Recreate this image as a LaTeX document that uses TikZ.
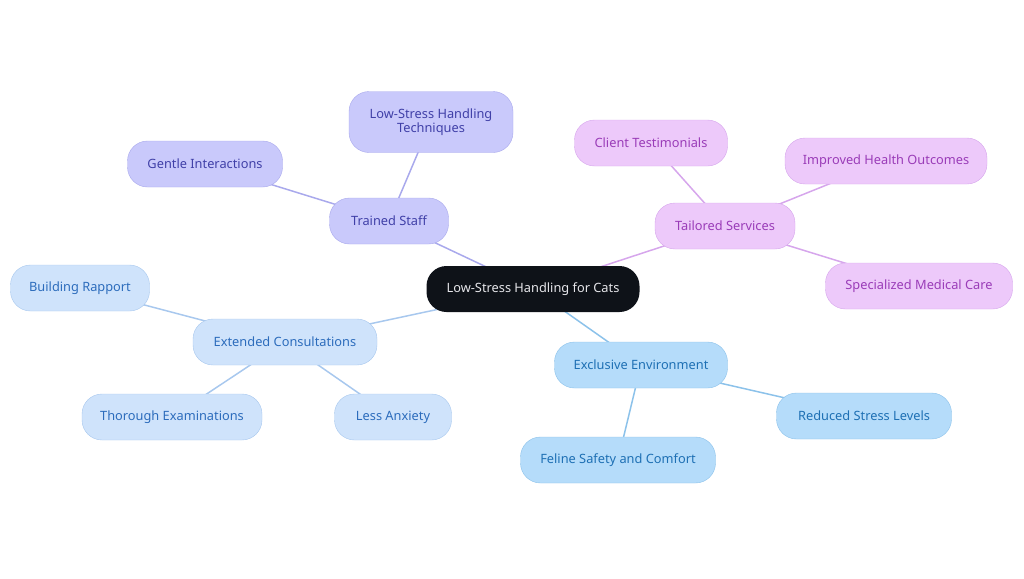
\documentclass[tikz,border=0pt]{standalone}
\usepackage{fontspec}
\setmainfont{Noto Sans}
\usetikzlibrary{backgrounds}
\definecolor{rootfill}{HTML}{0E1218}
\definecolor{rootText}{HTML}{E6E6EA}
\definecolor{lavFill}{HTML}{C9C9FB}
\definecolor{lavDraw}{HTML}{A9A9EC}
\definecolor{lavText}{HTML}{4040A8}
\definecolor{pinkFill}{HTML}{EDC9FA}
\definecolor{pinkDraw}{HTML}{D6A6EC}
\definecolor{pinkText}{HTML}{9A3CB8}
\definecolor{blueFill}{HTML}{B5DCFA}
\definecolor{blueDraw}{HTML}{8CC2EA}
\definecolor{blueText}{HTML}{1E70B4}
\definecolor{paleFill}{HTML}{CFE3FB}
\definecolor{paleDraw}{HTML}{A8C8EE}
\definecolor{paleText}{HTML}{2C6CBC}
\begin{document}
\begin{tikzpicture}
[x=1pt,y=-1pt,
 nodedecorate/.style={shape=rectangle,rounded corners=20pt,minimum height=46pt,
   inner sep=2pt,align=center,font=\fontsize{12.8}{14.5}\selectfont},
 lav/.style={nodedecorate,fill=lavFill,draw=lavDraw,text=lavText},
 pink/.style={nodedecorate,fill=pinkFill,draw=pinkDraw,text=pinkText},
 blue/.style={nodedecorate,fill=blueFill,draw=blueDraw,text=blueText},
 pale/.style={nodedecorate,fill=paleFill,draw=paleDraw,text=paleText},
 linedecorate/.style={-,line width=1.5pt}]
\useasboundingbox (0,0) rectangle (1024,578);
%% nodes or vertices
\node (Root) at (533,289) [nodedecorate,fill=rootfill,text=rootText,minimum width=213pt] {Low-Stress Handling for Cats};
\foreach \nodename/\x/\y/\w/\h/\sty/\txt in {
  Staff/389/221/119/46/lav/{Trained Staff},
  Techniques/431/122/164/61/lav/{Low-Stress Handling\\Techniques},
  Gentle/205/164/155/46/lav/{Gentle Interactions},
  Tailored/725/226/140/46/pink/{Tailored Services},
  Testimonials/651/143/153/46/pink/{Client Testimonials},
  Outcomes/886/161/202/46/pink/{Improved Health Outcomes},
  Medical/919/286/187/46/pink/{Specialized Medical Care},
  Environment/641/365/173/46/blue/{Exclusive Environment},
  Reduced/864/416/175/46/blue/{Reduced Stress Levels},
  Safety/618/460/195/46/blue/{Feline Safety and Comfort},
  Consult/285/342/184/46/pale/{Extended Consultations},
  Rapport/80/288/139/46/pale/{Building Rapport},
  Thorough/172/417/180/46/pale/{Thorough Examinations},
  Anxiety/393/417/117/46/pale/{Less Anxiety}} {
  \node (\nodename) at (\x,\y) [\sty,minimum width=\w pt,minimum height=\h pt] {\txt};
}
%% edges or lines
\begin{scope}[on background layer]
\foreach \startnode/\endnode/\col in {Root/Staff/lavDraw, Staff/Techniques/lavDraw, Staff/Gentle/lavDraw,
  Root/Tailored/pinkDraw, Tailored/Testimonials/pinkDraw, Tailored/Outcomes/pinkDraw, Tailored/Medical/pinkDraw,
  Root/Environment/blueDraw, Environment/Reduced/blueDraw, Environment/Safety/blueDraw,
  Root/Consult/paleDraw, Consult/Rapport/paleDraw, Consult/Thorough/paleDraw, Consult/Anxiety/paleDraw} {
  \draw[linedecorate,draw=\col] (\startnode.center) -- (\endnode.center);
}
\end{scope}
\end{tikzpicture}
\end{document}
